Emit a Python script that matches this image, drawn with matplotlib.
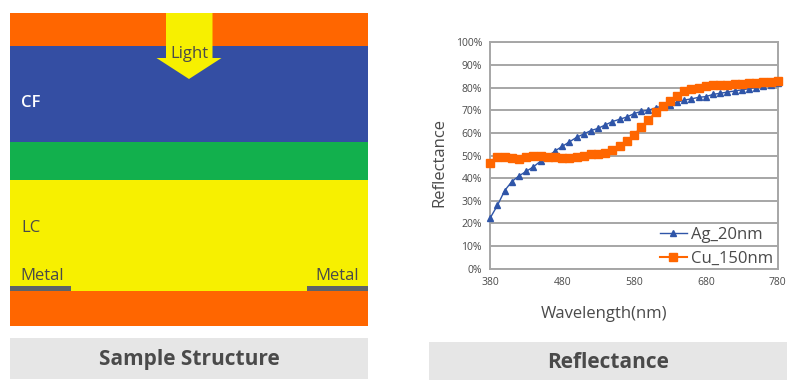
import numpy as np
import matplotlib
matplotlib.use('Agg')
import matplotlib.pyplot as plt
from matplotlib.patches import Rectangle, Polygon

plt.rcParams['font.family'] = ['Open Sans', 'DejaVu Sans']

W, H = 789, 384

#### Values
wavelength = np.arange(380, 781, 10)
ag_20nm = [22.5, 28, 34.5, 38.5, 41, 43, 45, 47.5, 49.5, 52, 54, 56, 58, 59.5, 61, 62, 63.5, 65, 66, 67, 68.5,
           69.5, 70, 71, 72, 72.5, 73.5, 74.5, 75, 75.7, 76, 77, 77.5, 78, 78.5, 79, 79.5, 80, 80.5, 81, 82]
cu_150nm = [46.5, 49.5, 49.5, 49, 48.5, 49.5, 50, 50, 49.5, 49.5, 49, 49, 49.5, 50, 50.5, 50.5, 51, 52.5, 54, 56.5, 59,
            62.5, 65.5, 69, 72, 74, 76.5, 78.5, 79.5, 80, 80.5, 81, 81, 81, 81.5, 81.5, 82, 82, 82.5, 82.5, 83]
x_ticks = [380, 480, 580, 680, 780]
y_ticks = list(range(0, 101, 10))
y_labels = ['%d%%' % v for v in y_ticks]
####

ORANGE = '#ff6600'
BLUE = '#344ea3'
GREEN = '#12b04d'
YELLOW = '#f7f000'
GRAY = '#a6a6a6'
TEXT = '#4a4a4a'

fig = plt.figure(figsize=(W / 100, H / 100), dpi=100)

# whole figure in pixel coords, for the structure drawing
bg = fig.add_axes([0, 0, 1, 1])
bg.set_xlim(0, W)
bg.set_ylim(H, 0)
bg.axis('off')


def box(x0, y0, x1, y1, color):
    bg.add_patch(Rectangle((x0, y0), x1 - x0, y1 - y0, fc=color, ec='none'))


box(10, 13, 368.5, 46, ORANGE)
box(10, 46, 368.5, 142, BLUE)
box(10, 142, 368.5, 180, GREEN)
box(10, 180, 368.5, 291, YELLOW)
box(10, 291, 368.5, 326, ORANGE)
box(10, 286, 71, 291, '#5f6368')
box(307, 286, 368.5, 291, '#5f6368')
box(10, 338, 368.5, 378.5, '#e6e6e6')
box(429, 342, 787, 380, '#e6e6e6')

# light arrow
bg.add_patch(Polygon([(166, 13), (212.5, 13), (212.5, 58), (221.5, 58), (189, 79), (156.5, 58), (166, 58)],
                     closed=True, fc=YELLOW, ec='none'))

bg.text(189, 54, 'Light', ha='center', va='center', fontsize=12, color=TEXT, fontweight='medium')
bg.text(21, 103, 'CF', ha='left', va='center', fontsize=12, color='white', fontweight='semibold')
bg.text(21, 228, 'LC', ha='left', va='center', fontsize=12, color=TEXT, fontweight='medium')
bg.text(20, 276, 'Metal', ha='left', va='center', fontsize=12, color=TEXT, fontweight='medium')
bg.text(359, 276, 'Metal', ha='right', va='center', fontsize=12, color=TEXT, fontweight='medium')
bg.text(189, 360, 'Sample Structure', ha='center', va='center', fontsize=15, color=TEXT, fontweight='bold')
bg.text(608, 363, 'Reflectance', ha='center', va='center', fontsize=15, color=TEXT, fontweight='bold')

# reflectance chart
left, right, top, bottom = 490.3, 777.7, 42.3, 268.7
ax = fig.add_axes([left / W, 1 - bottom / H, (right - left) / W, (bottom - top) / H])
ax.patch.set_alpha(0)
ax.plot(wavelength, ag_20nm, '-^', color='#2f55a8', ms=5, lw=1, label='Ag_20nm', clip_on=False, zorder=3)
ax.plot(wavelength, cu_150nm, '-s', color=ORANGE, ms=6, lw=1.5, label='Cu_150nm', clip_on=False, zorder=4)
ax.set_xlim(380, 780)
ax.set_ylim(0, 100)
ax.set_xticks(x_ticks)
ax.set_yticks(y_ticks)
ax.set_yticklabels(y_labels)
ax.tick_params(length=0, labelsize=7.5, labelcolor=TEXT, pad=6)
ax.grid(axis='y', color=GRAY, lw=1.4)
ax.set_axisbelow(True)
for s in ax.spines.values():
    s.set_color(GRAY)
    s.set_linewidth(1.4)
ax.set_xlabel('Wavelength(nm)', fontsize=12, color=TEXT, labelpad=13, x=0.396)
ax.set_ylabel('Reflectance', fontsize=12, color=TEXT, labelpad=6, y=0.471)
ax.legend(loc='lower right', frameon=False, fontsize=12, labelcolor=TEXT, handlelength=1.6, handletextpad=0.25,
          labelspacing=0.45, borderaxespad=0, bbox_to_anchor=(1.007, -0.02))

fig.savefig('out.png', dpi=100)
